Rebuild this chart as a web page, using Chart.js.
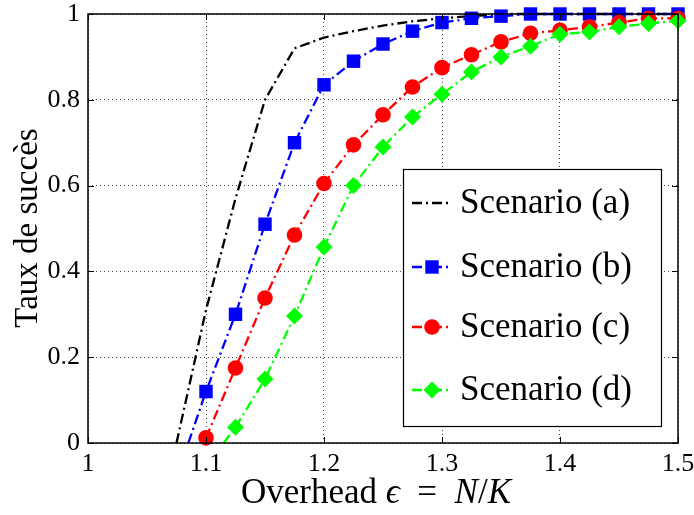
<!DOCTYPE html>
<html>
<head>
<meta charset="utf-8">
<script src="https://cdn.jsdelivr.net/npm/chart.js@4.4.1/dist/chart.umd.min.js"></script>
<style>
  html, body { margin: 0; padding: 0; background: #fff; }
  #wrap { width: 694px; height: 515px; }
  .probe { font-family: 'Liberation Serif'; position: absolute; left: -999px; }
</style>
</head>
<body>
<div id="wrap"><canvas id="c" width="694" height="515"></canvas></div>
<span class="probe">Scenario ϵ N/K 0.8 <i>N</i></span>
<script>
// x positions (overhead N/K)
const xA = [1.075, 1.1, 1.125, 1.15, 1.175, 1.2, 1.225, 1.25, 1.275, 1.3, 1.325, 1.35, 1.375, 1.4, 1.425, 1.45, 1.475, 1.5];
const xB = [1.085, 1.1, 1.125, 1.15, 1.175, 1.2, 1.225, 1.25, 1.275, 1.3, 1.325, 1.35, 1.375, 1.4, 1.425, 1.45, 1.475, 1.5];
const xC = [1.1, 1.125, 1.15, 1.175, 1.2, 1.225, 1.25, 1.275, 1.3, 1.325, 1.35, 1.375, 1.4, 1.425, 1.45, 1.475, 1.5];
const xD = [1.115, 1.125, 1.15, 1.175, 1.2, 1.225, 1.25, 1.275, 1.3, 1.325, 1.35, 1.375, 1.4, 1.425, 1.45, 1.475, 1.5];

// success rates
const scenA = [0, 0.31, 0.57, 0.80, 0.92, 0.945, 0.96, 0.973, 0.983, 0.99, 0.995, 1, 1, 1, 1, 1, 1, 1];
const scenB = [0, 0.12, 0.30, 0.51, 0.70, 0.835, 0.89, 0.93, 0.96, 0.98, 0.99, 0.995, 1, 1, 1, 1, 1, 1];
const scenC = [0.012, 0.175, 0.338, 0.485, 0.605, 0.695, 0.765, 0.83, 0.875, 0.905, 0.935, 0.955, 0.962, 0.97, 0.98, 0.99, 0.99];
const scenD = [0, 0.037, 0.149, 0.296, 0.457, 0.60, 0.69, 0.76, 0.813, 0.865, 0.90, 0.925, 0.953, 0.958, 0.97, 0.978, 0.984];

const labels = ['Scenario (a)', 'Scenario (b)', 'Scenario (c)', 'Scenario (d)'];
const xTicks = [1, 1.1, 1.2, 1.3, 1.4, 1.5];
const yTicks = [0, 0.2, 0.4, 0.6, 0.8, 1];

const FONT = '"Liberation Serif", "DejaVu Serif", serif';
const DASH = [10, 4, 2, 4];

function pts(xs, ys) { return xs.map((x, i) => ({ x: x, y: ys[i] })); }

// first point of b and d is only the line's foot on the axis, no marker
function radii(n, r, skipFirst) {
  const a = new Array(n).fill(r);
  if (skipFirst) a[0] = 0;
  return a;
}

function fmt(v) { return String(+v.toFixed(2)); }

const datasets = [
  { label: labels[0], data: pts(xA, scenA), borderColor: '#000', backgroundColor: '#000',
    borderWidth: 2.3, borderDash: DASH, pointRadius: 0, pointStyle: false, order: 4, legendMarker: null },
  { label: labels[1], data: pts(xB, scenB), borderColor: '#0000ff', backgroundColor: '#0000ff',
    borderWidth: 2.3, borderDash: DASH, pointStyle: 'rect', pointRadius: radii(xB.length, 9.5, true),
    pointBorderWidth: 0, order: 3, legendMarker: { style: 'rect', r: 9.5 } },
  { label: labels[2], data: pts(xC, scenC), borderColor: '#ff0000', backgroundColor: '#ff0000',
    borderWidth: 2.3, borderDash: DASH, pointStyle: 'circle', pointRadius: 7.8,
    pointBorderWidth: 0, order: 2, legendMarker: { style: 'circle', r: 7.8 } },
  { label: labels[3], data: pts(xD, scenD), borderColor: '#00ff00', backgroundColor: '#00ff00',
    borderWidth: 2.3, borderDash: DASH, pointStyle: 'rectRot', pointRadius: radii(xD.length, 8.5, true),
    pointBorderWidth: 0, order: 1, legendMarker: { style: 'rectRot', r: 8.5 } }
];
datasets.forEach(d => { d.fill = false; d.tension = 0; d.clip = false; });

// box, inward ticks, titles and legend (matlab look)
const decor = {
  id: 'decor',
  afterDraw(chart) {
    const ctx = chart.ctx, a = chart.chartArea;
    const xs = chart.scales.x, ys = chart.scales.y;
    ctx.save();
    ctx.strokeStyle = '#000';
    ctx.lineWidth = 1.5;
    ctx.setLineDash([]);
    ctx.strokeRect(a.left, a.top, a.right - a.left, a.bottom - a.top);
    ctx.lineWidth = 1;
    ctx.beginPath();
    xTicks.forEach(v => {
      const p = Math.round(xs.getPixelForValue(v)) + 0.5;
      ctx.moveTo(p, a.bottom); ctx.lineTo(p, a.bottom - 6);
      ctx.moveTo(p, a.top); ctx.lineTo(p, a.top + 6);
    });
    yTicks.forEach(v => {
      const p = Math.round(ys.getPixelForValue(v)) + 0.5;
      ctx.moveTo(a.left, p); ctx.lineTo(a.left + 6, p);
      ctx.moveTo(a.right, p); ctx.lineTo(a.right - 6, p);
    });
    ctx.stroke();

    // y title
    ctx.fillStyle = '#000';
    ctx.font = '33px ' + FONT;
    ctx.textAlign = 'center';
    ctx.textBaseline = 'middle';
    ctx.save();
    ctx.translate(28, 228);
    ctx.rotate(-Math.PI / 2);
    ctx.fillText('Taux de succès', 0, 0);
    ctx.restore();

    // x title with italic math
    const parts = [['Overhead ', false], ['ϵ', true], ['  =  ', false], ['N', true], ['/', false], ['K', true]];
    let total = 0;
    parts.forEach(p => { ctx.font = (p[1] ? 'italic ' : '') + '35px ' + FONT; total += ctx.measureText(p[0]).width; });
    let x = 376 - total / 2;
    ctx.textAlign = 'left';
    ctx.textBaseline = 'alphabetic';
    parts.forEach(p => {
      ctx.font = (p[1] ? 'italic ' : '') + '35px ' + FONT;
      ctx.fillText(p[0], x, 503);
      x += ctx.measureText(p[0]).width;
    });

    // legend
    const L = { x: 403, y: 169, w: 258, h: 257 };
    ctx.fillStyle = '#fff';
    ctx.fillRect(L.x, L.y, L.w, L.h);
    ctx.strokeStyle = '#000';
    ctx.lineWidth = 1.2;
    ctx.strokeRect(L.x + 0.5, L.y + 0.5, L.w, L.h);
    const rows = [203, 267, 327, 390];
    chart.data.datasets.forEach((d, i) => {
      const y = rows[i];
      ctx.strokeStyle = d.borderColor;
      ctx.lineWidth = d.borderWidth;
      ctx.setLineDash(d.borderDash);
      ctx.beginPath();
      ctx.moveTo(412, y); ctx.lineTo(452, y);
      ctx.stroke();
      ctx.setLineDash([]);
      if (d.legendMarker) {
        ctx.fillStyle = d.backgroundColor;
        Chart.helpers.drawPoint(ctx, { pointStyle: d.legendMarker.style, radius: d.legendMarker.r, borderWidth: 0, rotation: 0 }, 432, y);
      }
      ctx.fillStyle = '#000';
      ctx.font = '35px ' + FONT;
      ctx.textAlign = 'left';
      ctx.textBaseline = 'middle';
      ctx.fillText(d.label, 460, y + 1);
    });
    ctx.restore();
  }
};

function draw() {
  new Chart(document.getElementById('c'), {
    type: 'line',
    data: { datasets: datasets },
    plugins: [decor],
    options: {
      responsive: false,
      animation: false,
      layout: { padding: { left: 0, right: 16, top: 14, bottom: 0 } },
      plugins: { legend: { display: false }, tooltip: { enabled: false } },
      elements: { line: { borderCapStyle: 'butt' } },
      scales: {
        x: {
          type: 'linear', min: 1, max: 1.5,
          afterBuildTicks: s => { s.ticks = xTicks.map(v => ({ value: v })); },
          ticks: { color: '#000', font: { family: FONT, size: 26 }, padding: 6, maxRotation: 0, callback: fmt },
          grid: { color: '#444', lineWidth: 1, drawTicks: false },
          border: { display: false, dash: [1, 3] },
          afterFit: s => { s.height = 72; s.paddingLeft = 0; s.paddingRight = 0; }
        },
        y: {
          type: 'linear', min: 0, max: 1,
          afterBuildTicks: s => { s.ticks = yTicks.map(v => ({ value: v })); },
          ticks: { color: '#000', font: { family: FONT, size: 26 }, padding: 8, callback: fmt },
          grid: { color: '#444', lineWidth: 1, drawTicks: false },
          border: { display: false, dash: [1, 3] },
          afterFit: s => { s.width = 88; s.paddingTop = 0; s.paddingBottom = 0; }
        }
      }
    }
  });
}

Promise.all([
  document.fonts.load('26px "Liberation Serif"'),
  document.fonts.load('italic 35px "Liberation Serif"')
]).then(draw, draw);
</script>
</body>
</html>
